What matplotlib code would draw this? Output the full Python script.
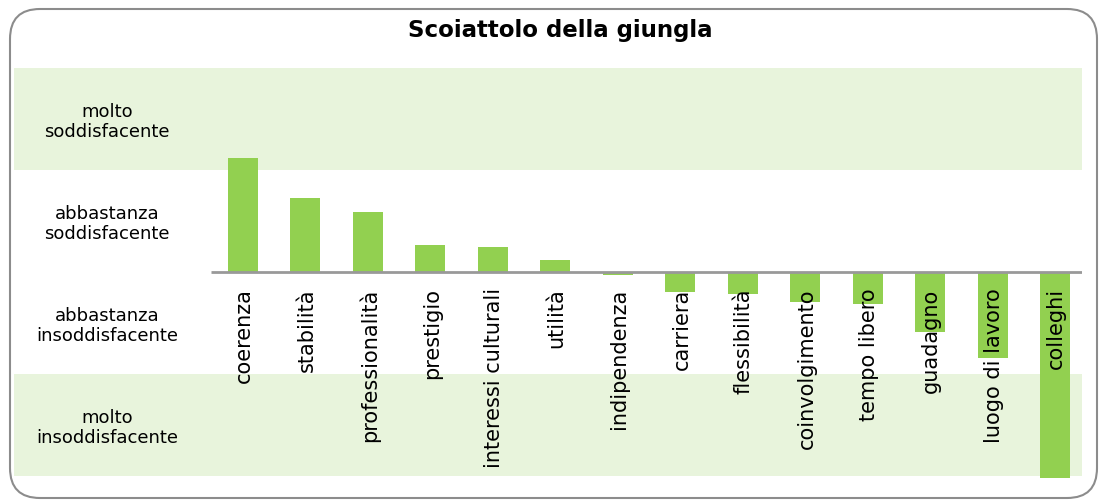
"""Scoiattolo della giungla - satisfaction bars."""

import matplotlib
matplotlib.use("Agg")
import matplotlib.pyplot as plt
from matplotlib.patches import FancyBboxPatch

title = "Scoiattolo della giungla"
categories = [
    "coerenza", "stabilità", "professionalità", "prestigio",
    "interessi culturali", "utilità", "indipendenza", "carriera",
    "flessibilità", "coinvolgimento", "tempo libero", "guadagno",
    "luogo di lavoro", "colleghi",
]
values = [1.12, 0.73, 0.59, 0.26, 0.25, 0.12, -0.03, -0.20,
          -0.22, -0.29, -0.31, -0.59, -0.84, -2.02]
levels = ["molto\nsoddisfacente", "abbastanza\nsoddisfacente",
          "abbastanza\ninsoddisfacente", "molto\ninsoddisfacente"]
level_centers = [1.5, 0.5, -0.5, -1.5]

bar_color = "#92D050"
band_color = "#E8F4DC"

W, H = 1102, 502
fig = plt.figure(figsize=(W / 100, H / 100), dpi=100)

# background axes in pixel units, only for the rounded frame
bg = fig.add_axes([0, 0, 1, 1], zorder=-1)
bg.set_xlim(0, W)
bg.set_ylim(H, 0)
bg.axis("off")
bg.add_patch(FancyBboxPatch((10, 10), 1087, 489,
                            boxstyle="round,pad=0,rounding_size=30",
                            facecolor="white", edgecolor="#8c8c8c",
                            linewidth=1.5))

ax = fig.add_axes([14 / W, 25 / H, 1068 / W, 408 / H])
ax.set_facecolor("none")
step = 62.46
ax.set_xlim((14 - 243) / step, (1082 - 243) / step)
ax.set_ylim(-2, 2)

ax.axhspan(1, 2, color=band_color, zorder=0, linewidth=0)
ax.axhspan(-2, -1, color=band_color, zorder=0, linewidth=0)

x = range(len(categories))
ax.bar(x, values, width=0.48, color=bar_color, zorder=2, clip_on=False)
ax.hlines(0, -0.52, ax.get_xlim()[1], color="#999999", linewidth=2, zorder=3)

for i, name in enumerate(categories):
    ax.text(i + 0.02, -0.15, name, rotation=90, ha="center", va="top",
            fontsize=15, color="black", zorder=4)

for yc, lab in zip(level_centers, levels):
    ax.text((107 - 243) / step, yc - 0.02, lab, ha="center", va="center",
            fontsize=13, linespacing=1.2)

ax.axis("off")
fig.text(560 / W, 1 - 31 / H, title, ha="center", va="center",
         fontsize=16.5, fontweight="bold")

fig.savefig("out.png", dpi=100)
